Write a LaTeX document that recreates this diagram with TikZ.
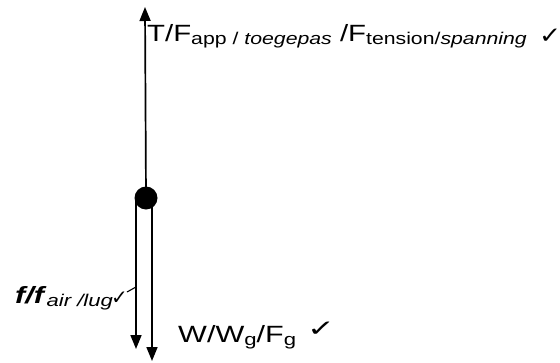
\documentclass[tikz,border=0pt]{standalone}
\usepackage{fontspec}
\setmainfont{Liberation Sans}
\newfontfamily\symfont{DejaVu Sans}
\usetikzlibrary{arrows.meta}
\tikzset{
force/.style={line width=1.7pt, -{Triangle[length=14pt,width=11pt]}},
lab/.style={anchor=base west, inner sep=0pt, font=\fontsize{23.5}{27}\selectfont},
tick/.style={anchor=base west, inner sep=0pt, font=\symfont\fontsize{23}{26}\selectfont}
}
\newcommand{\sbs}[1]{\raisebox{-3pt}{\fontsize{17}{20}\selectfont #1}}
\newcommand{\wide}[2][1.3]{\scalebox{#1}[1]{#2}}

\begin{document}
\begin{tikzpicture}[x=1pt, y=-1pt]
	\useasboundingbox (0,0) rectangle (560,362);
	% mass and forces
	\node[circle, fill, inner sep=0pt, minimum size=23pt] (mass) at (146,198) {};
	\coordinate (upTip) at (145,7);
	\coordinate (fTop) at (136,198);
	\coordinate (fTip) at (136,349);
	\coordinate (wTop) at (152,200);
	\coordinate (wTip) at (152,361);
	\draw[force] (mass.center) -- (upTip);
	\draw[force] (fTop) -- (fTip);
	\draw[force] (wTop) -- (wTip);
	% labels
	\node[lab] (tension) at (147,41) {\wide[1.25]{T/F\sbs{app / \textit{toegepas}} /F\sbs{tension/\textit{spanning}}}};
	\node[tick] (tChk) at (539,43) {\wide[1.15]{✓}};
	\node[lab] (weight) at (178,342) {\wide{W/W\sbs{g}/F\sbs{g}}};
	\node[tick] (wChk) at (307,336) {\wide[1.45]{✓}};
	\node[lab] (friction) at (15,303) {\wide{\textbf{\textit{f/f}}\sbs{\textit{air /lug}}}};
	\node[tick, font=\symfont\fontsize{20}{22}\selectfont] (fChk) at (111,304) {✓};
	\coordinate (fChkEnd) at (127,292);
	\coordinate (fLead) at (136,287);
	\draw[line width=1.1pt] (fChkEnd) -- (fLead);
\end{tikzpicture}
\end{document}
